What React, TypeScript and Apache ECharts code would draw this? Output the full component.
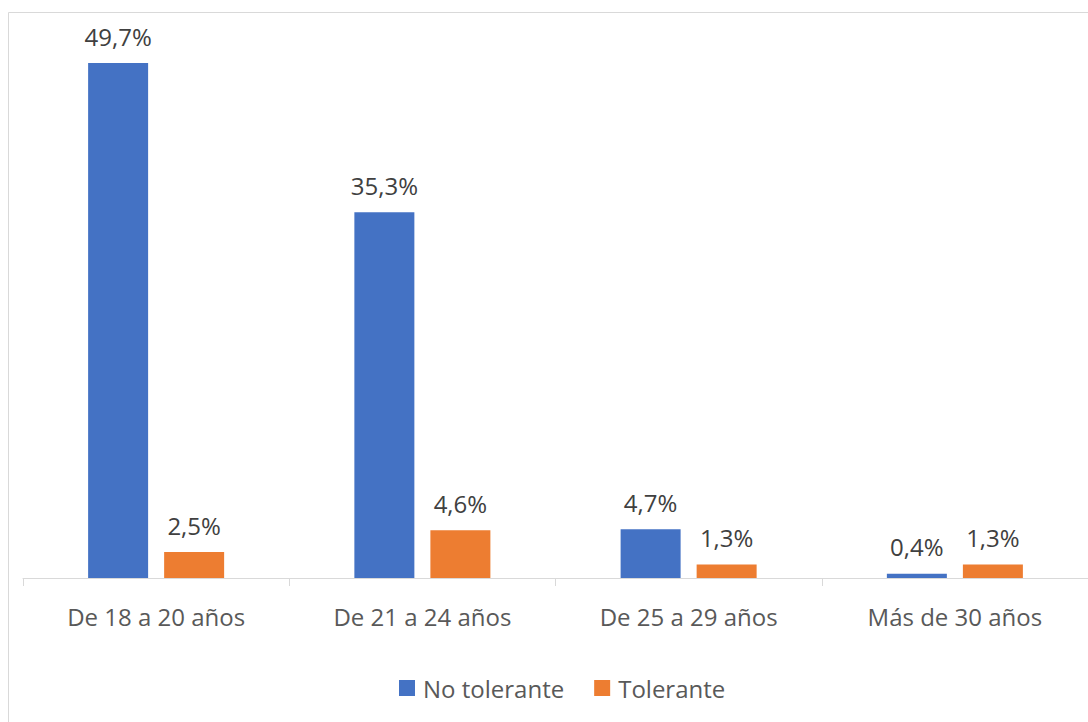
import React, { useEffect, useRef } from "react";
import * as echarts from "echarts";

const categories = ["De 18 a 20 años", "De 21 a 24 años", "De 25 a 29 años", "Más de 30 años"];
const noTolerante = [49.7, 35.3, 4.7, 0.4];
const tolerante = [2.5, 4.6, 1.3, 1.3];
const seriesNames = ["No tolerante", "Tolerante"];

const FONT = "'Open Sans', 'Noto Sans', sans-serif";

export default function App() {
  const ref = useRef<HTMLDivElement>(null);
  useEffect(() => {
    if (!ref.current) return;
    const chart = echarts.init(ref.current, null, { renderer: "svg" });
    const label = {
      show: true,
      position: "top",
      distance: 15,
      fontSize: 24,
      fontFamily: FONT,
      color: "#404040",
      formatter: (p: any) => p.value.toFixed(1).replace(".", ",") + "%",
    };
    chart.setOption({
      animation: false,
      backgroundColor: "#ffffff",
      graphic: [
        {
          type: "rect",
          shape: { x: 8.5, y: 12.5, width: 1100, height: 730 },
          style: { fill: "none", stroke: "#d9d9d9", lineWidth: 1 },
          silent: true,
        },
      ],
      grid: { left: 23, right: 0, top: 60, bottom: 144, containLabel: false },
      legend: {
        data: seriesNames,
        bottom: 17,
        left: 394,
        itemWidth: 16,
        itemHeight: 16,
        itemGap: 30,
        icon: "rect",
        textStyle: { fontSize: 24, fontFamily: FONT, color: "#595959", padding: [0, 0, 0, 3] },
      },
      xAxis: {
        type: "category",
        data: categories,
        axisLine: { lineStyle: { color: "#d9d9d9", width: 1 } },
        axisTick: { show: true, length: 8, lineStyle: { color: "#d9d9d9" } },
        axisLabel: { fontSize: 24, fontFamily: FONT, color: "#595959", margin: 26 },
      },
      yAxis: {
        type: "value",
        min: 0,
        max: 50,
        show: false,
        splitLine: { show: false },
      },
      series: [
        {
          name: seriesNames[0],
          type: "bar",
          data: noTolerante,
          barWidth: 60,
          barGap: "26.7%",
          itemStyle: { color: "#4472c4" },
          label,
        },
        {
          name: seriesNames[1],
          type: "bar",
          data: tolerante,
          barWidth: 60,
          barGap: "26.7%",
          itemStyle: { color: "#ed7d31" },
          label,
        },
      ],
    });
    return () => chart.dispose();
  }, []);
  return (
    <div
      ref={ref}
      style={{ position: "absolute", left: 0, top: 0, width: 1088, height: 722 }}
    />
  );
}
